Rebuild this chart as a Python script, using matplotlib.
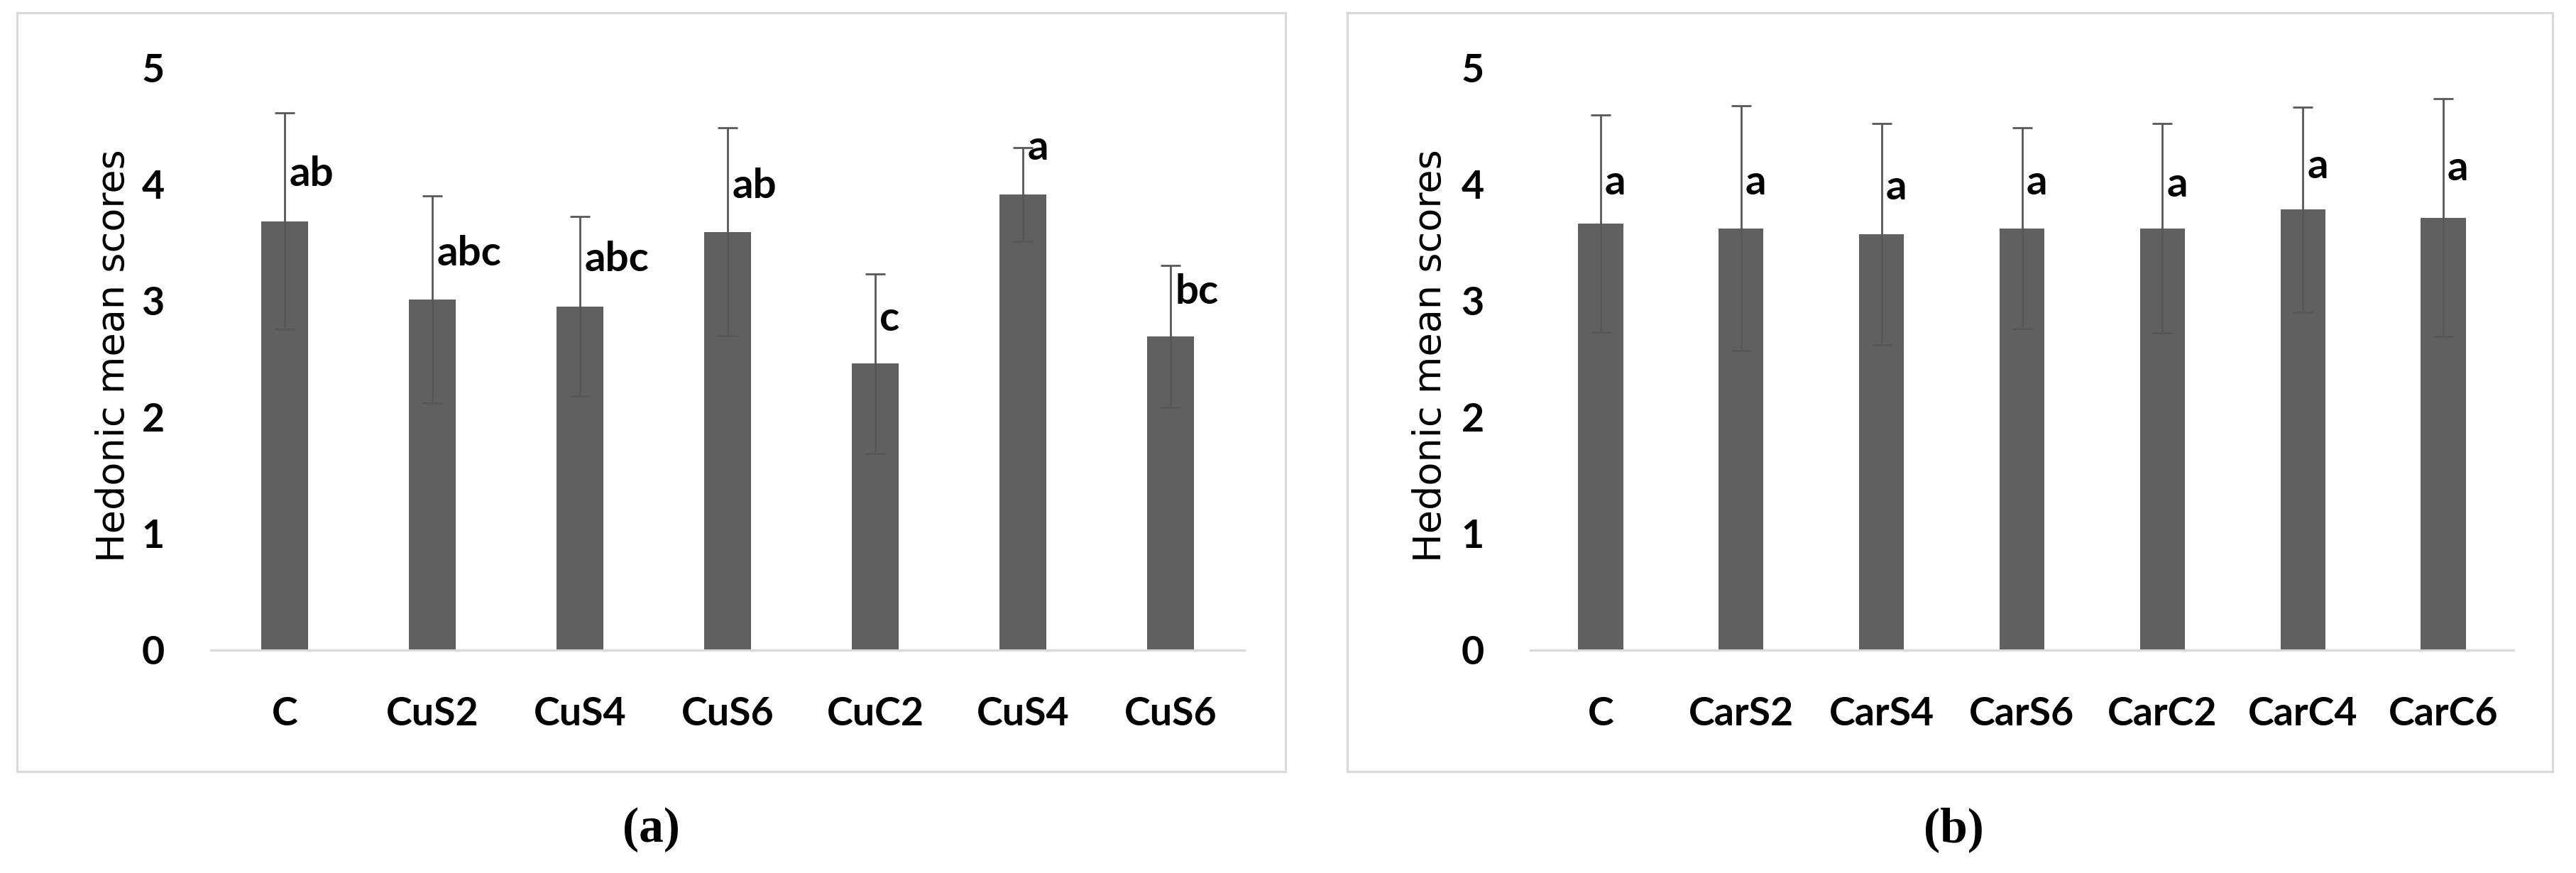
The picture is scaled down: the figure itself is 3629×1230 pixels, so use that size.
import matplotlib
matplotlib.use("Agg")
import matplotlib.pyplot as plt
from matplotlib.patches import Rectangle

# painel (a) - amostras Cu
cats_a = ["C", "CuS2", "CuS4", "CuS6", "CuC2", "CuS4", "CuS6"]
means_a = [3.68, 3.01, 2.95, 3.59, 2.46, 3.91, 2.69]
sd_a = [0.93, 0.89, 0.77, 0.89, 0.77, 0.40, 0.61]
letters_a = ["ab", "abc", "abc", "ab", "c", "a", "bc"]
letter_y_a = [3.98, 3.30, 3.25, 3.88, 2.74, 4.21, 2.97]

# painel (b) - amostras Car
cats_b = ["C", "CarS2", "CarS4", "CarS6", "CarC2", "CarC4", "CarC6"]
means_b = [3.66, 3.62, 3.57, 3.62, 3.62, 3.78, 3.71]
sd_b = [0.93, 1.05, 0.95, 0.86, 0.90, 0.88, 1.02]
letters_b = ["a", "a", "a", "a", "a", "a", "a"]
letter_y_b = [3.91, 3.91, 3.87, 3.91, 3.89, 4.05, 4.03]

yticks = [0, 1, 2, 3, 4, 5]
ylabel = "Hedonic mean scores"

BAR = "#606060"
ERR = "#585858"
LINE = "#d9d9d9"
FONT = "Lato"


def draw(ax, cats, means, sd, letters, letter_y, label_x):
    x = list(range(len(cats)))
    ax.bar(x, means, width=0.32, color=BAR, zorder=2)
    ax.errorbar(x, means, yerr=sd, fmt="none", ecolor=ERR, elinewidth=2,
                capsize=10, capthick=2, zorder=3)
    for i in x:
        ax.text(i + 0.03, letter_y[i], letters[i], ha="left", va="baseline",
                fontsize=42, fontweight="bold", family=FONT, zorder=4)

    ax.set_xlim(-0.5, len(cats) - 0.5)
    ax.set_ylim(0, 5)
    ax.set_xticks(x)
    ax.set_xticklabels(cats)
    ax.set_yticks(yticks)
    for lab in ax.get_xticklabels() + ax.get_yticklabels():
        lab.set_fontsize(40)
        lab.set_fontweight("bold")
        lab.set_family(FONT)
    ax.tick_params(axis="y", length=0, pad=47)
    ax.tick_params(axis="x", length=0, pad=47)

    for s in ["top", "right", "left"]:
        ax.spines[s].set_visible(False)
    ax.spines["bottom"].set_color(LINE)
    ax.spines["bottom"].set_linewidth(2.2)
    ax.set_facecolor("none")

    ax.set_ylabel(ylabel, fontsize=39, family="DejaVu Sans", va="center")
    ax.yaxis.set_label_coords(label_x, 0.505)


fig = plt.figure(figsize=(36.3, 12.3), dpi=100)

# molduras cinza claro em volta de cada grafico
for x0, x1 in [(24, 1811), (1898, 3596)]:
    fig.patches.append(Rectangle((x0 / 3630, 1 - 1087 / 1230), (x1 - x0) / 3630,
                                 1069 / 1230, transform=fig.transFigure,
                                 fill=False, edgecolor=LINE, linewidth=2.2))

ax1 = fig.add_axes([297 / 3630, 1 - 916 / 1230, 1456 / 3630, 821 / 1230])
ax2 = fig.add_axes([2156 / 3630, 1 - 916 / 1230, 1385 / 3630, 821 / 1230])

draw(ax1, cats_a, means_a, sd_a, letters_a, letter_y_a, -0.094)
draw(ax2, cats_b, means_b, sd_b, letters_b, letter_y_b, -0.102)

fig.text(917 / 3630, 1 - 1169 / 1230, "(a)", ha="center", va="center",
         fontsize=50, fontweight="bold", family="Liberation Serif")
fig.text(2752 / 3630, 1 - 1169 / 1230, "(b)", ha="center", va="center",
         fontsize=50, fontweight="bold", family="Liberation Serif")

fig.savefig("out.png", dpi=100, facecolor="white")
